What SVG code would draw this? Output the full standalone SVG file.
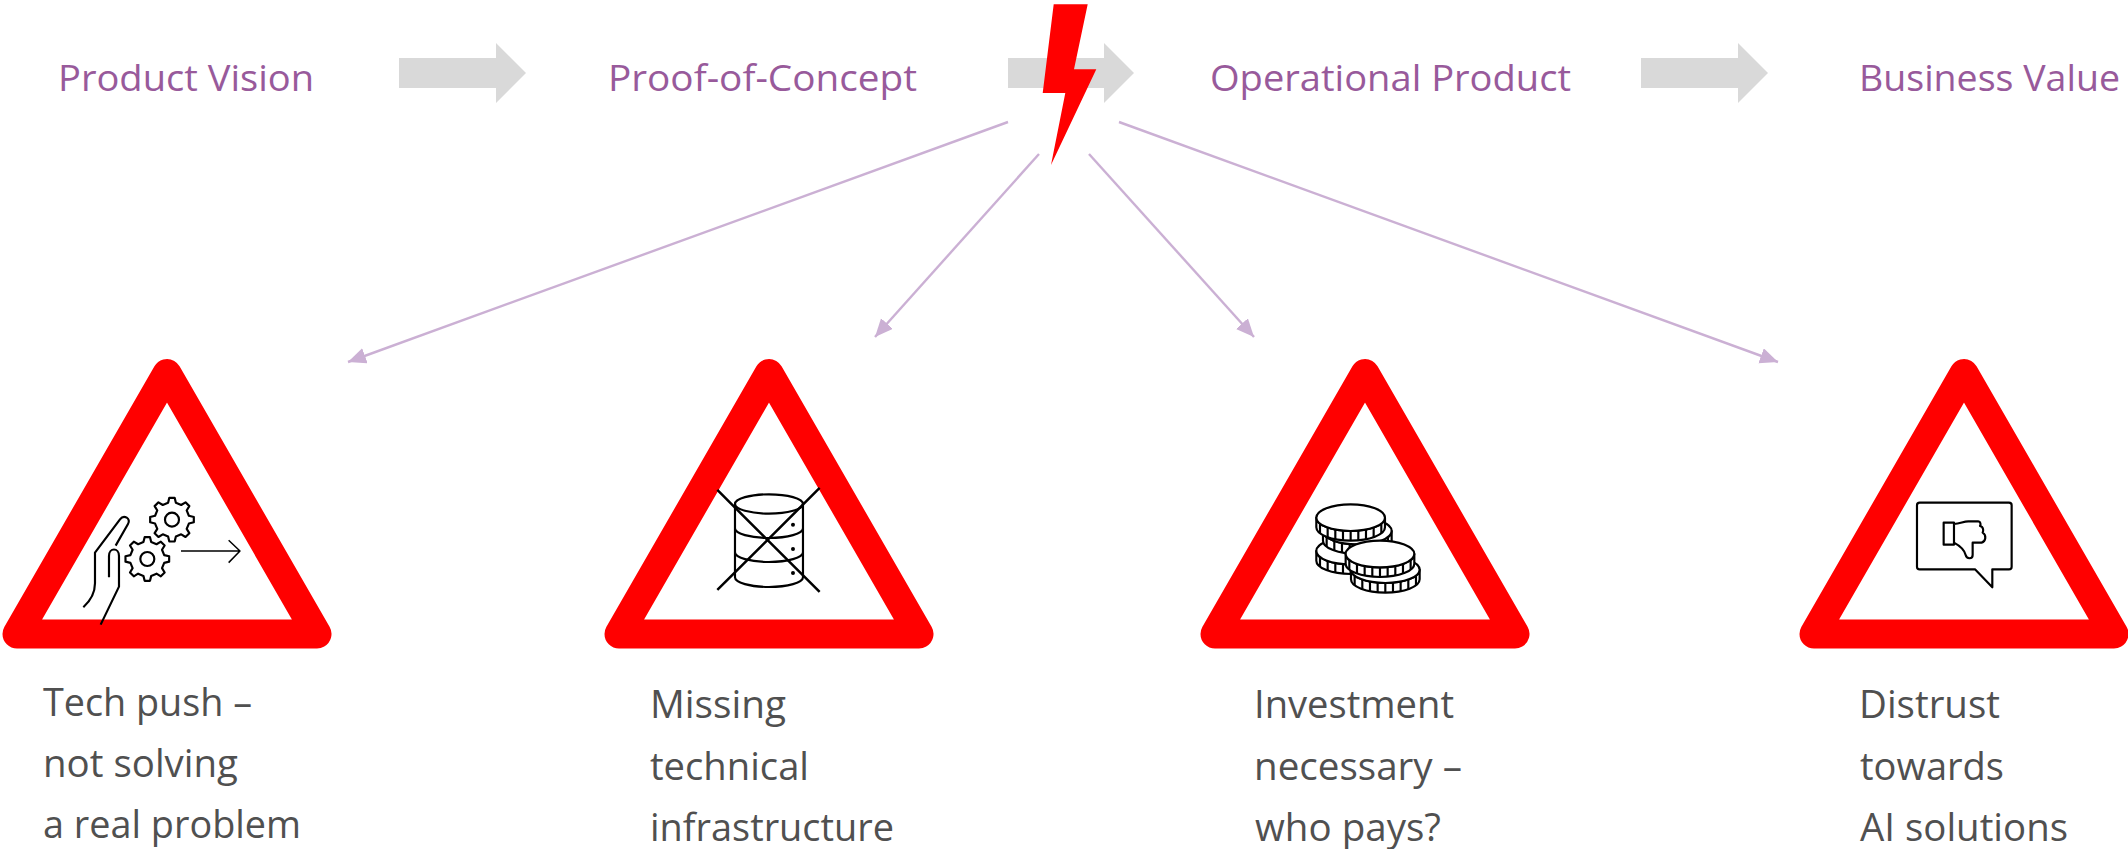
<svg xmlns="http://www.w3.org/2000/svg" xmlns:xlink="http://www.w3.org/1999/xlink" width="2128" height="849" viewBox="0 0 2128 849">
<style>
text{font-family:"Open Sans","Noto Sans","Liberation Sans",sans-serif;}
.head{font-size:36px;fill:#985a9b;}
.body{font-size:38px;fill:#505050;}
.tri{fill:none;stroke:#ff0000;stroke-width:29;stroke-linejoin:round;}
.flow{fill:#d9d9d9;}
.conn{fill:none;stroke:#cbb0d4;stroke-width:2.4;marker-end:url(#ah);}
.ic{fill:none;stroke:#000;stroke-width:6.5;stroke-linejoin:round;stroke-linecap:butt;}
.coin{fill:#fff;stroke:#000;stroke-width:6.5;stroke-linejoin:round;}
</style>
<defs>
<marker id="ah" markerUnits="userSpaceOnUse" markerWidth="20" markerHeight="18" refX="18" refY="8" orient="auto"><path d="M0,0L18,8L0,16Z" fill="#cbb0d4"/></marker>
<path id="gear" d="M-11.7,-50.7L-8,-65.5L8,-65.5L11.7,-50.7L27.6,-44.1L40.6,-52L52,-40.6L44.1,-27.6L50.7,-11.7L65.5,-8L65.5,8L50.7,11.7L44.1,27.6L52,40.6L40.6,52L27.6,44.1L11.7,50.7L8,65.5L-8,65.5L-11.7,50.7L-27.6,44.1L-40.6,52L-52,40.6L-44.1,27.6L-50.7,11.7L-65.5,8L-65.5,-8L-50.7,-11.7L-44.1,-27.6L-52,-40.6L-40.6,-52L-27.6,-44.1Z"/>
<g id="coin" class="coin">
<path d="M-103,0A103,40 0 0 0 103,0V29A103,40 0 0 1 -103,29Z"/>
<ellipse cx="0" cy="0" rx="103" ry="40"/>
<path d="M0,40v29M23,39v29M-23,39v29M46,36v29M-46,36v29M69,30v29M-69,30v29M92,18v29M-92,18v29"/>
</g>
</defs>
<rect width="2128" height="849" fill="#fff"/>

<g id="flow-arrows">
<path class="flow" d="M399,58H496V43L526,73L496,103V88H399Z"/>
<path class="flow" d="M1008,58H1104V43L1134,73L1104,103V88H1008Z"/>
<path class="flow" d="M1641,58H1738V43L1768,73L1738,103V88H1641Z"/>
</g>

<g id="stage-product-vision"><text class="head" x="58" y="91" textLength="256" lengthAdjust="spacingAndGlyphs">Product Vision</text></g>
<g id="stage-proof-of-concept"><text class="head" x="608" y="91" textLength="309" lengthAdjust="spacingAndGlyphs">Proof-of-Concept</text></g>
<g id="stage-operational-product"><text class="head" x="1210" y="91" textLength="361" lengthAdjust="spacingAndGlyphs">Operational Product</text></g>
<g id="stage-business-value"><text class="head" x="1859" y="91" textLength="261" lengthAdjust="spacingAndGlyphs">Business Value</text></g>

<g id="lightning"><path d="M1053.7,4.3H1087.7L1074,69.3H1096.3L1051,165L1065.3,93H1042.7Z" fill="#ff0000"/></g>

<g id="connectors">
<line class="conn" x1="1008" y1="122" x2="348" y2="362"/>
<line class="conn" x1="1039" y1="154" x2="875" y2="337"/>
<line class="conn" x1="1089" y1="154" x2="1254" y2="337"/>
<line class="conn" x1="1119" y1="122" x2="1778" y2="362"/>
</g>

<g id="warning-tech-push">
<path class="tri" d="M167,373.5L317,634H17Z"/>
<g transform="translate(0 350) scale(0.3333)">
<use href="#gear" x="516" y="509" class="ic"/><circle class="ic" cx="516" cy="509" r="21"/>
<use href="#gear" x="442" y="627" class="ic"/><circle class="ic" cx="442" cy="627" r="21"/>
<path class="ic" d="M250,772C272,752 285,730 285,700V608L360,508C372,492 394,506 384,522L347,587M327,682V618C327,592 357,592 357,618V710L302,824"/>
<path class="ic" style="stroke-width:4.5" d="M543,603H720M686,571L720,603L686,638"/>
</g>
<text class="body" x="43" y="716" textLength="209" lengthAdjust="spacingAndGlyphs">Tech push –</text>
<text class="body" x="43" y="777" textLength="195" lengthAdjust="spacingAndGlyphs">not solving</text>
<text class="body" x="43" y="838" textLength="258" lengthAdjust="spacingAndGlyphs">a real problem</text>
</g>

<g id="warning-infrastructure">
<path class="tri" d="M769,373.5L919,634H619Z"/>
<g transform="translate(600 350) scale(0.3333)">
<ellipse class="ic" cx="507" cy="462" rx="102" ry="29"/>
<path class="ic" d="M405,462V682A102,29 0 0 0 609,682V462M405,535A102,29 0 0 0 609,535M405,607A102,29 0 0 0 609,607"/>
<circle cx="579" cy="524" r="6"/><circle cx="579" cy="597" r="6"/><circle cx="579" cy="669" r="6"/>
<path class="ic" style="stroke-width:7.5" d="M352,420L659,726M659,414L352,720"/>
</g>
<text class="body" x="650" y="718" textLength="136" lengthAdjust="spacingAndGlyphs">Missing</text>
<text class="body" x="650" y="780" textLength="159" lengthAdjust="spacingAndGlyphs">technical</text>
<text class="body" x="650" y="841" textLength="244" lengthAdjust="spacingAndGlyphs">infrastructure</text>
</g>

<g id="warning-investment">
<path class="tri" d="M1365,373.5L1515,634H1215Z"/>
<g transform="translate(1200 350) scale(0.3333)">
<use href="#coin" x="452" y="603"/>
<use href="#coin" x="472" y="543"/>
<use href="#coin" x="452" y="503"/>
<use href="#coin" x="556" y="659"/>
<use href="#coin" x="540" y="612"/>
</g>
<text class="body" x="1254" y="718" textLength="200" lengthAdjust="spacingAndGlyphs">Investment</text>
<text class="body" x="1254" y="780" textLength="208" lengthAdjust="spacingAndGlyphs">necessary –</text>
<text class="body" x="1255" y="841" textLength="186" lengthAdjust="spacingAndGlyphs">who pays?</text>
</g>

<g id="warning-distrust">
<path class="tri" d="M1964,373.5L2114,634H1814Z"/>
<g transform="translate(1790 350) scale(0.3333)">
<path class="ic" d="M389,458H657A8,8 0 0 1 665,466V650A8,8 0 0 1 657,658H607V712L555,658H389A8,8 0 0 1 381,650V466A8,8 0 0 1 389,458Z"/>
<path class="ic" d="M461,518H492V584H461ZM492,522C510,522 520,514 535,514H565C572,514 573,524 570,528C582,530 580,545 578,548C590,555 588,575 575,578H548V615C548,628 530,628 527,615C522,595 505,585 492,578"/>
</g>
<text class="body" x="1859" y="718" textLength="141" lengthAdjust="spacingAndGlyphs">Distrust</text>
<text class="body" x="1860" y="780" textLength="144" lengthAdjust="spacingAndGlyphs">towards</text>
<text class="body" x="1860" y="841" textLength="208" lengthAdjust="spacingAndGlyphs">AI solutions</text>
</g>
</svg>
